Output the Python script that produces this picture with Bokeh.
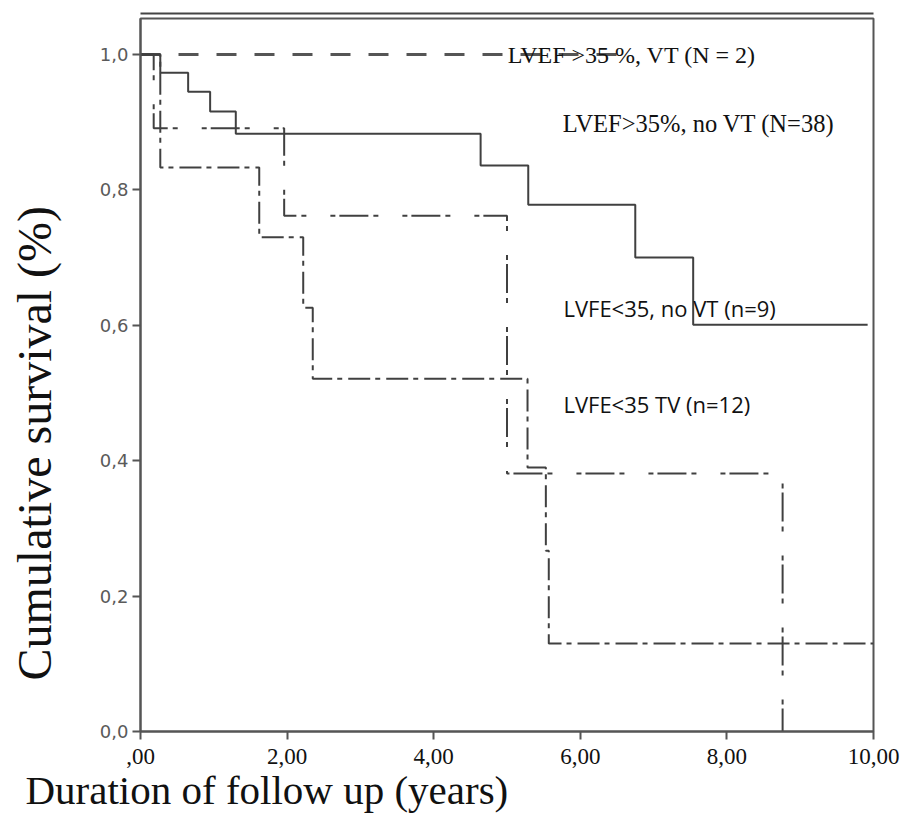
import math
from bokeh.plotting import figure
from bokeh.models import Range1d, FixedTicker, Label, Title, LinearAxis, CustomJSTickFormatter
from bokeh.embed import file_html
from bokeh.resources import INLINE

# ---- data (years, cumulative survival) ----
vt_hi_t = [0.0, 6.5]                      # LVEF >35 %, VT (N = 2)
vt_hi_s = [1.0, 1.0]
novt_hi_t = [0.0, 0.27, 0.65, 0.95, 1.30, 4.64, 5.29, 6.75, 7.54, 9.92]   # LVEF>35%, no VT (N=38)
novt_hi_s = [1.0, 0.973, 0.945, 0.916, 0.883, 0.836, 0.778, 0.700, 0.601, 0.601]
novt_lo_t = [0.0, 0.18, 1.96, 5.00, 8.76]                                 # LVFE<35, no VT (n=9)
novt_lo_s = [1.0, 0.891, 0.762, 0.381, 0.0]
vt_lo_t = [0.0, 0.27, 1.62, 2.22, 2.35, 5.28, 5.53, 5.57, 10.0]          # LVFE<35 TV (n=12)
vt_lo_s = [1.0, 0.833, 0.730, 0.626, 0.521, 0.390, 0.267, 0.130, 0.130]

group_labels = ["LVEF >35 %, VT (N = 2)", "LVEF>35%, no VT (N=38)",
                "LVFE<35, no VT (n=9)", "LVFE<35 TV (n=12)"]

x_ticks = [0, 2, 4, 6, 8, 10]
x_tick_labels = [",00", "2,00", "4,00", "6,00", "8,00", "10,00"]
y_ticks = [0.0, 0.2, 0.4, 0.6, 0.8, 1.0]
y_tick_labels = ["0,0", "0,2", "0,4", "0,6", "0,8", "1,0"]

x_title = "Duration of follow up (years)"
y_title = "Cumulative survival (%)"

# ---- figure ----
GRAY = "#555555"
LINE = "#404040"

p = figure(width=904, height=820, x_range=Range1d(0, 10), y_range=Range1d(0, 1.0532),
           output_backend="svg", toolbar_location=None, title=None,
           min_border_left=140, min_border_right=31, min_border_top=18, min_border_bottom=89)
p.background_fill_color = "white"
p.border_fill_color = "white"
p.grid.visible = False
p.outline_line_color = GRAY
p.outline_line_width = 2

fmt_code = """
let best = 0;
for (let i = 0; i < tvals.length; i++) {
  if (Math.abs(tvals[i] - tick) < Math.abs(tvals[best] - tick)) best = i;
}
return tlabels[best];
"""

xa = p.xaxis[0]
xa.ticker = FixedTicker(ticks=x_ticks)
xa.formatter = CustomJSTickFormatter(args=dict(tvals=x_ticks, tlabels=x_tick_labels), code=fmt_code)
xa.axis_line_color = GRAY
xa.axis_line_width = 2
xa.major_tick_line_color = GRAY
xa.major_tick_line_width = 2
xa.major_tick_out = 8
xa.major_tick_in = 0
xa.minor_tick_line_color = None
xa.major_label_text_font = "Liberation Serif"
xa.major_label_text_font_size = "23px"
xa.major_label_text_color = "#111111"
xa.major_label_standoff = 9

ya = p.yaxis[0]
ya.ticker = FixedTicker(ticks=y_ticks)
ya.formatter = CustomJSTickFormatter(args=dict(tvals=y_ticks, tlabels=y_tick_labels), code=fmt_code)
ya.axis_line_color = GRAY
ya.axis_line_width = 2
ya.major_tick_line_color = GRAY
ya.major_tick_line_width = 2
ya.major_tick_out = 8
ya.major_tick_in = 0
ya.minor_tick_line_color = None
ya.major_label_text_font = "DejaVu Sans"
ya.major_label_text_font_size = "18px"
ya.major_label_text_color = "#5a5a5a"
ya.major_label_standoff = 4

# ---- survival curves ----
p.step(vt_hi_t, vt_hi_s, mode="after", line_color=GRAY, line_width=3, line_dash="20 18")
p.step(novt_hi_t, novt_hi_s, mode="after", line_color=LINE, line_width=2)
p.step(novt_lo_t, novt_lo_s, mode="after", line_color=LINE, line_width=2, line_dash="29 5 5 24 5 4")
p.step(vt_lo_t, vt_lo_s, mode="after", line_color=LINE, line_width=2, line_dash="22 5 5 6")

# ---- group labels ----
p.add_layout(Label(x=5.01, y=1.0, text=group_labels[0], text_font="Liberation Serif",
                   text_font_size="24px", text_color="#111111", text_baseline="middle"))
p.add_layout(Label(x=5.76, y=0.898, text=group_labels[1], text_font="Liberation Serif",
                   text_font_size="24.5px", text_color="#111111", text_baseline="middle"))
p.add_layout(Label(x=5.77, y=0.625, text=group_labels[2], text_font="Open Sans",
                   text_font_size="22px", text_color="#111111", text_baseline="middle"))
p.add_layout(Label(x=5.77, y=0.484, text=group_labels[3], text_font="Open Sans",
                   text_font_size="22px", text_color="#111111", text_baseline="middle"))

# ---- axis titles as side-panel titles ----
has_standoff = "standoff" in Title.properties()

def with_standoff(kw, s):
    if has_standoff:
        kw["standoff"] = s
    return kw

p.add_layout(Title(**with_standoff(dict(text=x_title, align="left", offset=-115, vertical_align="top",
                                        text_font="Liberation Serif", text_font_size="41px",
                                        text_font_style="normal", text_color="#111111"), 0)), "below")

# spacer between the y axis and its title
p.add_layout(Title(**with_standoff(dict(text=" ", text_font_size="3px"), 25)), "left")
p.add_layout(Title(**with_standoff(dict(text=y_title, align="left", offset=51, vertical_align="top",
                                        text_font="Liberation Serif", text_font_size="48px",
                                        text_font_style="normal", text_color="#111111"), 8)), "left")

# ---- rule above the chart (spacer + bare axis) ----
p.add_layout(Title(**with_standoff(dict(text=" ", text_font_size="3px"), 0)), "above")
top_axis = LinearAxis(ticker=FixedTicker(ticks=[]), axis_line_color="#444444", axis_line_width=2,
                      major_tick_line_color=None, minor_tick_line_color=None,
                      major_label_text_font_size="0px")
p.add_layout(top_axis, "above")

open("out.html", "w").write(file_html(p, INLINE))
